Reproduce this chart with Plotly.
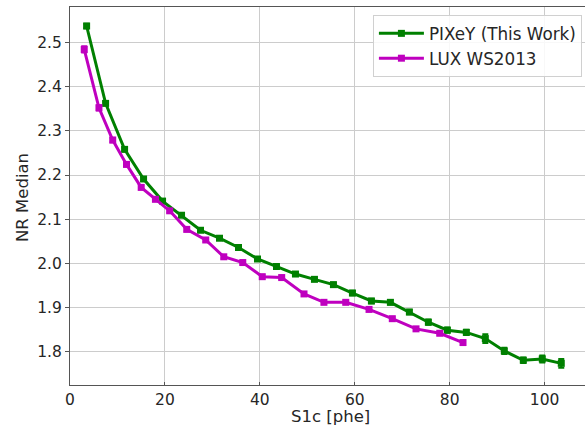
import plotly.graph_objects as go

# PIXeY (This Work)
pixey_x = [3.5, 7.5, 11.5, 15.5, 19.5, 23.5, 27.5, 31.5, 35.5, 39.5, 43.5, 47.5, 51.5,
           55.5, 59.5, 63.5, 67.5, 71.5, 75.5, 79.5, 83.5, 87.5, 91.5, 95.5, 99.5, 103.5]
pixey_y = [2.537, 2.362, 2.258, 2.191, 2.141, 2.109, 2.075, 2.057, 2.036, 2.010, 1.993, 1.976, 1.964,
           1.952, 1.933, 1.915, 1.912, 1.890, 1.867, 1.849, 1.844, 1.830, 1.802, 1.781, 1.784, 1.774]
pixey_err = [0.005, 0.004, 0.004, 0.004, 0.004, 0.004, 0.004, 0.004, 0.004, 0.004, 0.004, 0.004, 0.004,
             0.004, 0.005, 0.005, 0.005, 0.005, 0.006, 0.006, 0.006, 0.010, 0.007, 0.006, 0.008, 0.010]

# LUX WS2013
lux_x = [3.0, 6.1, 9.0, 11.9, 15.0, 18.0, 21.0, 24.6, 28.6, 32.4, 36.4, 40.5, 44.6,
         49.3, 53.5, 58.1, 63.0, 67.9, 72.9, 77.9, 82.8]
lux_y = [2.484, 2.352, 2.279, 2.224, 2.172, 2.145, 2.119, 2.077, 2.053, 2.015, 2.002, 1.970, 1.968,
         1.931, 1.912, 1.912, 1.896, 1.875, 1.852, 1.842, 1.821]
lux_err = [0.007, 0.006, 0.005, 0.005, 0.004, 0.004, 0.004, 0.004, 0.004, 0.004, 0.004, 0.004, 0.004,
           0.004, 0.004, 0.004, 0.004, 0.004, 0.004, 0.004, 0.005]

x_ticks = [0, 20, 40, 60, 80, 100]
y_ticks = [1.8, 1.9, 2.0, 2.1, 2.2, 2.3, 2.4, 2.5]
x_title = "S1c [phe]"
y_title = "NR Median"

GREEN = "#008000"
MAGENTA = "#BF00BF"
FONT = "DejaVu Sans"
TXT = "#262626"

fig = go.Figure()
fig.add_trace(go.Scatter(
    x=pixey_x, y=pixey_y, name="PIXeY (This Work)", mode="lines+markers",
    line=dict(color=GREEN, width=3),
    marker=dict(symbol="square", size=7, color=GREEN),
    error_y=dict(type="data", array=pixey_err, color=GREEN, thickness=2, width=3),
))
fig.add_trace(go.Scatter(
    x=lux_x, y=lux_y, name="LUX WS2013", mode="lines+markers",
    line=dict(color=MAGENTA, width=3),
    marker=dict(symbol="square", size=7, color=MAGENTA),
    error_y=dict(type="data", array=lux_err, color=MAGENTA, thickness=2, width=3),
))

axis_common = dict(
    showgrid=True, gridcolor="#cccccc", gridwidth=1,
    showline=True, linecolor="#555555", linewidth=1, mirror=True,
    tickfont=dict(family=FONT, size=15.5, color=TXT),
    zeroline=False,
)
fig.update_xaxes(range=[0, 108.5], tickvals=x_ticks, ticks="inside", ticklen=3,
                 tickcolor="#555555", **axis_common)
fig.update_yaxes(range=[1.725, 2.58], tickvals=y_ticks, tickformat=".1f",
                 ticks="outside", ticklen=4, tickcolor="#555555", **axis_common)

# plot area spans pixels 7..385 vertically (378 px), 70..585 horizontally (515 px)
fig.add_annotation(text=x_title, xref="paper", yref="paper", x=0.505, y=-0.083,
                   xanchor="center", yanchor="middle", showarrow=False,
                   font=dict(family=FONT, size=16.5, color=TXT))
fig.add_annotation(text=y_title, xref="paper", yref="paper", x=-0.091, y=0.495,
                   xanchor="center", yanchor="middle", showarrow=False, textangle=-90,
                   font=dict(family=FONT, size=16.5, color=TXT))

fig.update_layout(
    width=585, height=426,
    margin=dict(l=70, r=0, t=7, b=41),
    plot_bgcolor="white", paper_bgcolor="white",
    font=dict(family=FONT, size=16, color=TXT),
    legend=dict(x=0.994, y=0.979, xanchor="right", yanchor="top",
                bgcolor="rgba(255,255,255,0.85)", bordercolor="#d0d0d0", borderwidth=1,
                itemwidth=45,
                font=dict(family=FONT, size=16.8, color=TXT)),
    showlegend=True,
)

fig.write_html("out.html")
